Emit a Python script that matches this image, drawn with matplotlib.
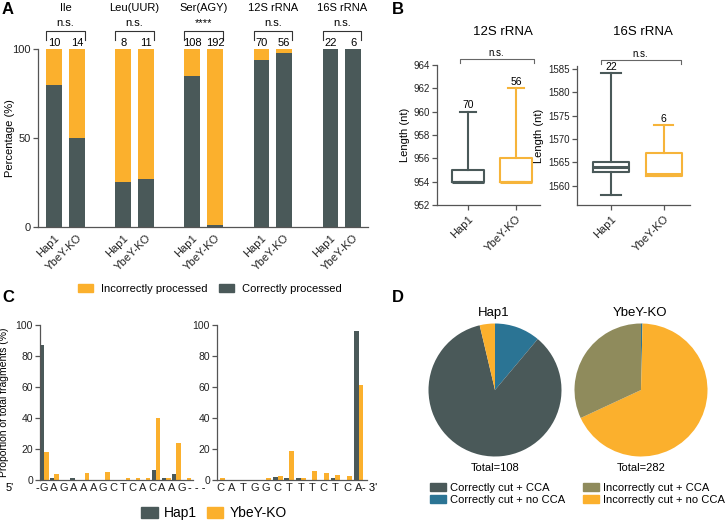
import matplotlib
matplotlib.use('Agg')
import matplotlib.pyplot as plt
from matplotlib.patches import Patch
import numpy as np

plt.rcParams['font.family'] = ['Liberation Sans', 'DejaVu Sans']

W, H = 727, 523
DARK = '#4a5959'
ORANGE = '#fbb02d'
TEAL = '#2b7494'
OLIVE = '#8f8b5c'
SPINE = '#555555'

# ---- panel A data
groups_a = ['Ile', 'Leu(UUR)', 'Ser(AGY)', '12S rRNA', '16S rRNA']
hap1_correct = [80, 25, 85, 94, 100]
ko_correct = [50, 27, 1, 98, 100]
n_hap1 = [10, 8, 108, 70, 22]
n_ko = [14, 11, 192, 56, 6]
sig_a = ['n.s.', 'n.s.', '****', 'n.s.', 'n.s.']

# ---- panel B data (whislo, q1, med, q3, whishi)
box_12s = {'Hap1': [954, 954, 954, 955, 960], 'YbeY-KO': [954, 954, 954, 956, 962]}
box_16s = {'Hap1': [1558, 1563, 1564, 1565, 1584], 'YbeY-KO': [1562, 1562, 1562.5, 1567, 1573]}
n_12s = [70, 56]
n_16s = [22, 6]

# ---- panel C data
seq_left = list('GAGAAAGCTCACAAG')
hap1_left = [87, 1, 0, 1, 0, 0, 0, 0, 0, 0, 0, 6.5, 1, 4, 0]
ko_left = [18, 4, 0, 0, 4.5, 0, 5, 0, 1, 1.5, 1, 40, 1, 24, 1]
seq_right = list('CATGGCTTTCTCA')
hap1_right = [0, 0, 0, 0, 0, 2, 1, 1, 0, 0, 1, 0, 96]
ko_right = [1, 0, 0, 0, 1, 2.5, 19, 1, 5.5, 4.5, 3.5, 2.5, 61]

# ---- panel D data
pie_labels = ['Correctly cut + CCA', 'Correctly cut + no CCA',
              'Incorrectly cut + CCA', 'Incorrectly cut + no CCA']
pie_colors = [DARK, TEAL, OLIVE, ORANGE]
hap1_pie = [92, 12, 0, 4]
ko_pie = [0, 1, 90, 191]
pie_order = [1, 0, 3, 2]   # drawing order, clockwise from top


fig = plt.figure(figsize=(W / 100, H / 100), dpi=100)


def ax_px(l, t, r, b):
    return fig.add_axes([l / W, 1 - b / H, (r - l) / W, (b - t) / H])


def px(x, y):
    return x / W, 1 - y / H


def style(ax):
    for s in ['top', 'right']:
        ax.spines[s].set_visible(False)
    for s in ['left', 'bottom']:
        ax.spines[s].set_color(SPINE)
        ax.spines[s].set_linewidth(0.9)
    ax.tick_params(colors=SPINE, labelcolor='#222222', width=0.9, length=3.5, pad=1.5)


# ================= A
axA = ax_px(38, 49, 368, 227)
style(axA)
x = np.arange(len(groups_a))
off, bw = 0.166, 0.225
pos = np.ravel(np.column_stack([x - off, x + off]))
corr = np.ravel(np.column_stack([hap1_correct, ko_correct]))
axA.bar(pos, corr, width=bw, color=DARK)
axA.bar(pos, 100 - corr, bottom=corr, width=bw, color=ORANGE)
axA.set_xlim(-0.4, 4.38)
axA.set_ylim(0, 100)
axA.set_yticks([0, 50, 100])
axA.set_xticks(pos)
axA.set_xticklabels(['Hap1', 'YbeY-KO'] * len(groups_a), rotation=45, ha='right',
                    rotation_mode='anchor', fontsize=8)
axA.tick_params(axis='x', length=0, pad=4)
axA.tick_params(axis='y', labelsize=8)
axA.set_ylabel('Percentage (%)', fontsize=8)
axA.yaxis.set_label_coords(-0.07, 0.5)
for i, g in enumerate(groups_a):
    x0, x1 = i - off - bw / 2, i + off + bw / 2
    axA.plot([x0, x0, x1, x1], [105, 110.3, 110.3, 105], color='#333333', lw=0.8, clip_on=False)
    axA.text(i, 123, g, ha='center', va='center', fontsize=8, clip_on=False)
    axA.text(i, 114.5, sig_a[i], ha='center', va='center', fontsize=8, clip_on=False)
    axA.text(i - off, 103.5, str(n_hap1[i]), ha='center', va='center', fontsize=8, clip_on=False)
    axA.text(i + off, 103.5, str(n_ko[i]), ha='center', va='center', fontsize=8, clip_on=False)

fig.legend(handles=[Patch(color=ORANGE, label='Incorrectly processed'),
                    Patch(color=DARK, label='Correctly processed')],
           loc='center', bbox_to_anchor=px(210, 289), ncol=2, frameon=False,
           fontsize=8, handlelength=1.35, handleheight=0.65, handletextpad=0.7,
           columnspacing=1.1, borderpad=0)


# ================= B
def draw_box(ax, data, counts, ylim, yticks, capw, title, tx, br):
    style(ax)
    stats = []
    for k, v in data.items():
        stats.append(dict(whislo=v[0], q1=v[1], med=v[2], q3=v[3], whishi=v[4], label=k))
    art = ax.bxp(stats, positions=[0, 1], widths=0.68, capwidths=capw, showfliers=False,
                 patch_artist=False)
    cols = [DARK, '#f6b43a']
    for j, c in enumerate(cols):
        art['boxes'][j].set(color=c, lw=1.5)
        art['medians'][j].set(color=c, lw=2.2)
        for w in art['whiskers'][2 * j:2 * j + 2]:
            w.set(color=c, lw=1.5)
        for cp in art['caps'][2 * j:2 * j + 2]:
            cp.set(color=c, lw=1.5)
        ax.annotate(str(counts[j]), (j, list(data.values())[j][4]), xytext=(0, 1),
                    textcoords='offset points', ha='center', va='bottom', fontsize=7.5)
    ax.set_ylim(*ylim)
    ax.set_yticks(yticks)
    ax.set_xlim(-0.65, 1.5)
    ax.set_xticks([0, 1])
    ax.set_xticklabels(list(data.keys()), rotation=45, ha='right', rotation_mode='anchor',
                       fontsize=8)
    ax.tick_params(axis='x', pad=3)
    ax.tick_params(axis='y', labelsize=7)
    ax.set_ylabel('Length (nt)', fontsize=8, labelpad=3)
    fig.text(*px(tx, 32), title, ha='center', va='center', fontsize=9.5)
    bx0, bx1, by0, by1 = br
    ax.plot([bx0, bx0, bx1, bx1], [by0, by1, by1, by0], color='#666666', lw=0.8, clip_on=False)
    ax.text((bx0 + bx1) / 2, by1 + (by1 - by0) * 1.4, 'n.s.', ha='center', va='center',
            fontsize=7, clip_on=False)


axB1 = ax_px(437, 65, 540, 205)
draw_box(axB1, box_12s, n_12s, (952, 964), np.arange(952, 965, 2), 0.32, '12S rRNA', 503,
         (-0.18, 1.37, 964.15, 964.5))
axB2 = ax_px(577, 66, 690, 205)
draw_box(axB2, box_16s, n_16s, (1555.9, 1585.6), np.arange(1560, 1586, 5), 0.37, '16S rRNA', 643,
         (-0.2, 1.32, 1586.1, 1586.95))


# ================= C
def draw_seq(ax, seq, hap, ko, xlim, ylabel, shift):
    style(ax)
    xs = np.arange(len(seq))
    w = 0.42
    ax.bar(xs - w / 2, hap, width=w, color=DARK)
    ax.bar(xs + w / 2, ko, width=w, color=ORANGE)
    ax.set_xlim(*xlim)
    ax.set_ylim(0, 100)
    ax.set_yticks(np.arange(0, 101, 20))
    ax.set_xticks(xs * (1 - shift))
    ax.set_xticklabels(seq, fontsize=8)
    ax.tick_params(axis='x', length=0, pad=2)
    ax.tick_params(axis='y', labelsize=7.5)
    if ylabel:
        ax.set_ylabel(ylabel, fontsize=7.5)
        ax.yaxis.set_label_coords(-0.2, 0.5)


axC1 = ax_px(40, 325, 193, 480)
draw_seq(axC1, seq_left, hap1_left, ko_left, (-0.42, 14.63), 'Proportion of total fragments (%)', 0.035)
axC2 = ax_px(217, 325, 367, 480)
draw_seq(axC2, seq_right, hap1_right, ko_right, (-0.26, 12.73), None, 0.0)
fig.text(*px(10, 488), "5'", ha='center', va='center', fontsize=8)
fig.text(*px(37, 488), '-', ha='center', va='center', fontsize=8)
fig.text(*px(188, 488), '- - -', ha='left', va='center', fontsize=8)
fig.text(*px(362, 488), "- 3'", ha='left', va='center', fontsize=8)

fig.legend(handles=[Patch(color=DARK, label='Hap1'), Patch(color=ORANGE, label='YbeY-KO')],
           loc='center', bbox_to_anchor=px(214, 513), ncol=2, frameon=False,
           fontsize=10, handlelength=1.2, handleheight=0.85, handletextpad=0.45,
           columnspacing=0.7, borderpad=0)


# ================= D
def draw_pie(cx, cy, vals, title, total):
    size = 2.5 * 66.5
    ax = ax_px(cx - size / 2, cy - size / 2, cx + size / 2, cy + size / 2)
    v = [vals[i] for i in pie_order]
    c = [pie_colors[i] for i in pie_order]
    ax.pie(v, colors=c, startangle=90, counterclock=False, wedgeprops=dict(linewidth=0))
    fig.text(*px(cx - 1, 313), title, ha='center', va='center', fontsize=9.5)
    fig.text(*px(cx, 468), 'Total=%d' % total, ha='center', va='center', fontsize=8)


draw_pie(495, 390, hap1_pie, 'Hap1', sum(hap1_pie))
draw_pie(641, 390, ko_pie, 'YbeY-KO', sum(ko_pie))
fig.legend(handles=[Patch(color=c, label=l) for c, l in zip(pie_colors, pie_labels)],
           loc='center', bbox_to_anchor=px(577, 494), ncol=2, frameon=False,
           fontsize=8, handlelength=1.5, handleheight=0.7, handletextpad=0.3,
           columnspacing=1.6, labelspacing=0.2, borderpad=0)

# panel letters
for lab, (lx, ly) in zip('ABCD', [(8, 9), (398, 9), (8, 298), (398, 298)]):
    fig.text(*px(lx, ly), lab, ha='center', va='center', fontsize=12, fontweight='bold')

fig.savefig('out.png', dpi=100, facecolor='white')
